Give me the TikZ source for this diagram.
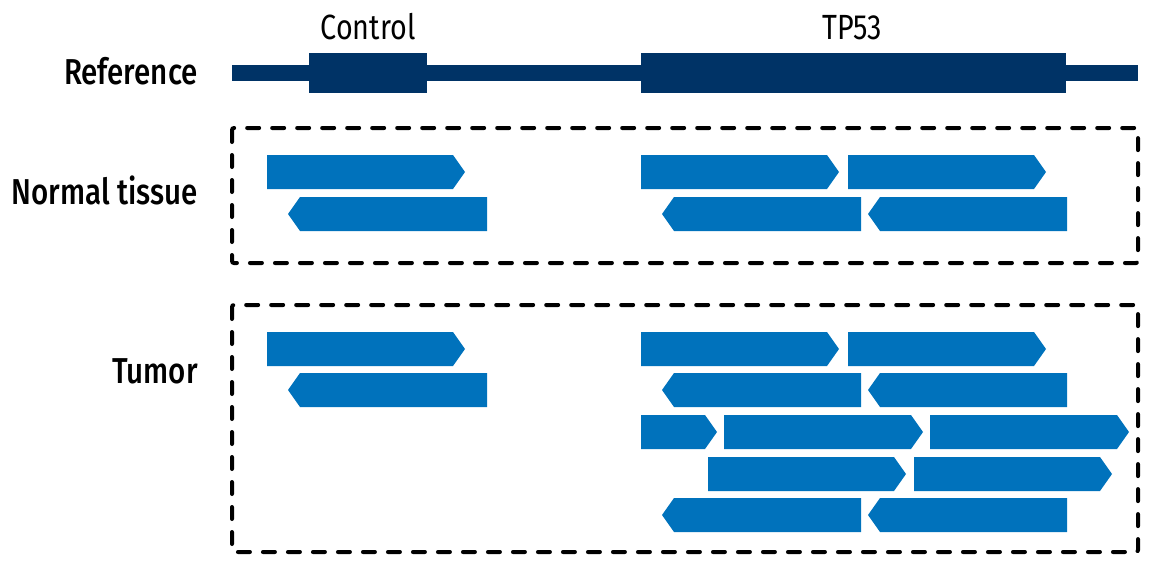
\documentclass[tikz,border=0pt]{standalone}
\usepackage{fontspec}
\setmainfont{Fira Sans}[FakeStretch=0.82]
\newfontfamily\labfont{Fira Sans Medium}[FakeStretch=0.82]
\definecolor{refnavy}{HTML}{003366}
\definecolor{readblue}{HTML}{0072BC}
\newcommand{\fwdread}[3]{\fill[readblue] (#1,#3) -- (#2-12,#3) -- (#2,#3+17) -- (#2-12,#3+34) -- (#1,#3+34) -- cycle;}
\newcommand{\revread}[3]{\fill[readblue] (#1,#3+17) -- (#1+12,#3) -- (#2,#3) -- (#2,#3+34) -- (#1+12,#3+34) -- cycle;}
\tikzset{
  rowlabel/.style={anchor=base east, inner sep=0pt, font=\labfont\fontsize{36}{40}\selectfont},
  genelabel/.style={anchor=base, inner sep=0pt, font=\fontsize{35}{40}\selectfont},
  sample/.style={draw=black, line width=4pt, dash pattern=on 12pt off 13pt, line cap=round, rounded corners=2pt},
}
\begin{document}
\begin{tikzpicture}[x=1pt,y=-1pt]
\useasboundingbox (0,0) rectangle (1155,560);
% labels
\node[rowlabel] (lref) at (198,84) {Reference};
\node[rowlabel] (lnorm) at (198,204) {Normal tissue};
\node[rowlabel] (ltum) at (198,383) {Tumor};
\node[genelabel] (lctrl) at (368,39) {Control};
\node[genelabel] (ltp) at (852,39) {TP53};
% reference
\fill[refnavy] (232,65) rectangle (1138,81);
\fill[refnavy] (309,53) rectangle (427,93);
\fill[refnavy] (641,53) rectangle (1066,93);
% boxes
\draw[sample] (232,128) rectangle (1138,263);
\draw[sample] (232,305) rectangle (1138,552);
% normal tissue reads
\fwdread{267}{465}{155}
\revread{288}{487}{197}
\fwdread{641}{839}{155}
\fwdread{848}{1046}{155}
\revread{662}{861}{197}
\revread{868}{1067}{197}
% tumor reads
\fwdread{267}{465}{332}
\revread{288}{487}{373}
\fwdread{641}{839}{332}
\fwdread{848}{1046}{332}
\revread{662}{861}{373}
\revread{868}{1067}{373}
\fwdread{641}{717}{415}
\fwdread{724}{923}{415}
\fwdread{930}{1129}{415}
\fwdread{708}{906}{457}
\fwdread{914}{1112}{457}
\revread{662}{861}{498}
\revread{868}{1067}{498}
\end{tikzpicture}
\end{document}
